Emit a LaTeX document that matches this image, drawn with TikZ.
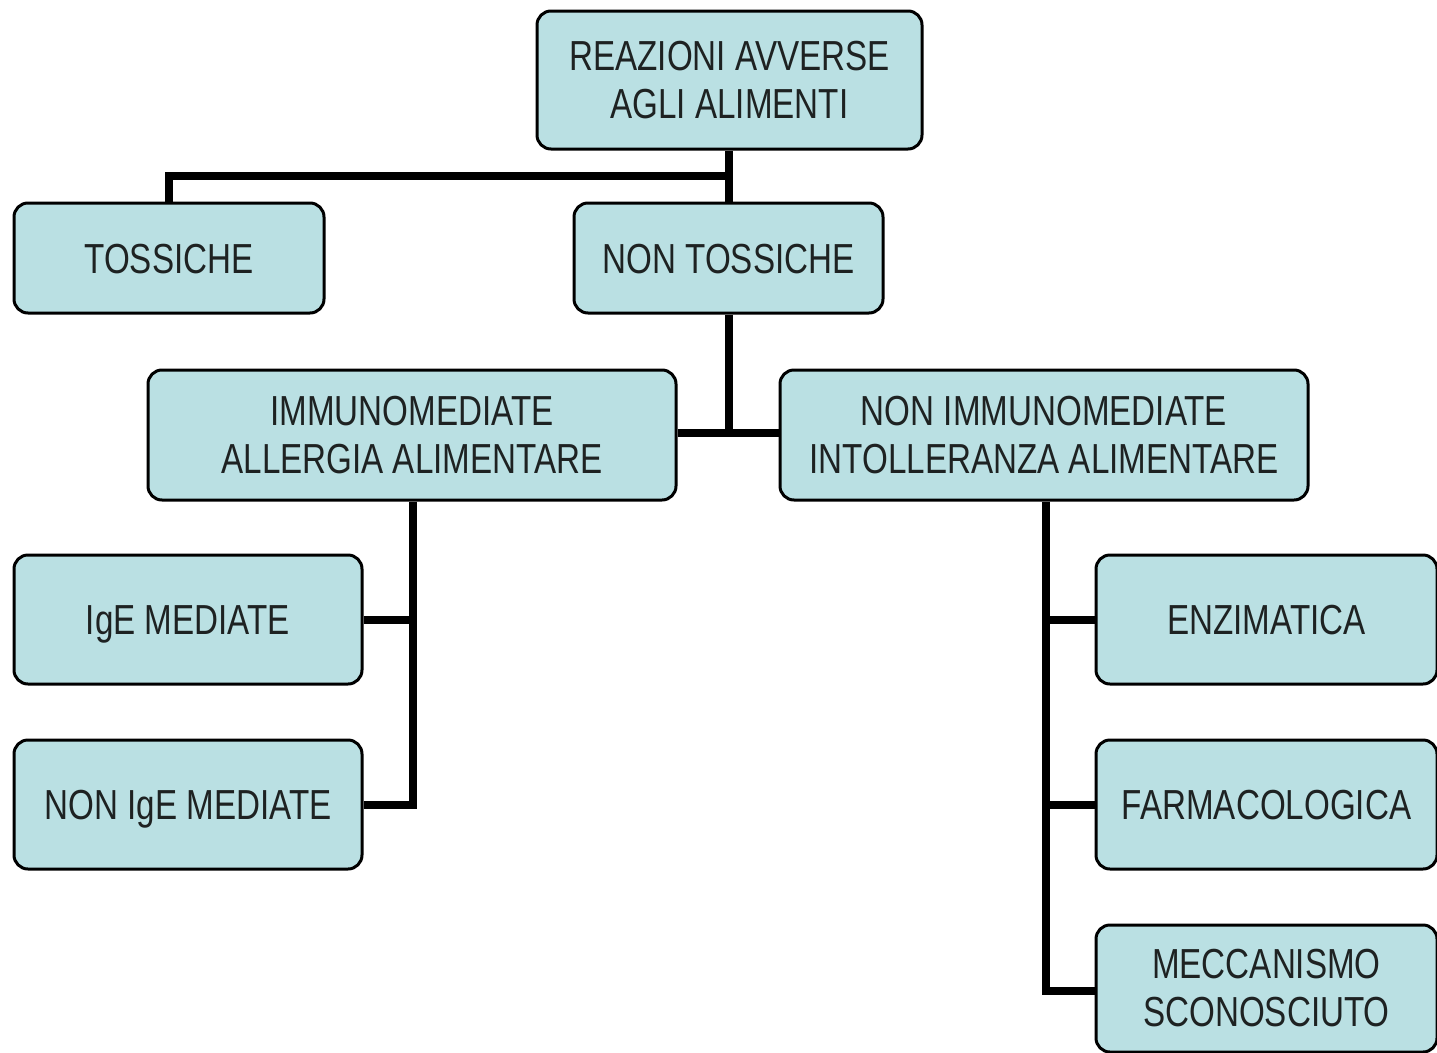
\documentclass[tikz,border=0pt]{standalone}
\usepackage{fontspec}
\setmainfont{Liberation Sans}[FakeStretch=0.79]
\begin{document}
\begin{tikzpicture}[x=1pt,y=-1pt,
  box/.style={draw=black, line width=3pt, fill=boxfill, rounded corners=14pt,
    inner sep=0pt, align=center, text=textgray,
    font=\fontsize{42}{48}\selectfont},
  oneline/.style={text height=30pt, text depth=0pt},
  conn/.style={draw=black, line width=8pt}]
\definecolor{boxfill}{HTML}{BAE0E3}
\definecolor{textgray}{HTML}{1E2222}
\useasboundingbox (0,0) rectangle (1437,1052);
\node[box, minimum width=385pt, minimum height=138pt] (top) at (729.5,80) {REAZIONI AVVERSE\\AGLI ALIMENTI};
\node[box, oneline, minimum width=310pt, minimum height=110pt] (ts) at (169,258) {TOSSICHE};
\node[box, oneline, minimum width=309pt, minimum height=110pt] (nt) at (728.5,258) {NON TOSSICHE};
\node[box, minimum width=528pt, minimum height=130pt] (im) at (412,435) {IMMUNOMEDIATE\\ALLERGIA ALIMENTARE};
\node[box, minimum width=528pt, minimum height=130pt] (ni) at (1044,435) {NON IMMUNOMEDIATE\\INTOLLERANZA ALIMENTARE};
\node[box, oneline, minimum width=348pt, minimum height=129pt] (ige) at (188,619.5) {IgE MEDIATE};
\node[box, oneline, minimum width=348pt, minimum height=129pt] (nige) at (188,804.5) {NON IgE MEDIATE};
\node[box, oneline, minimum width=341pt, minimum height=129pt] (enz) at (1266.5,619.5) {ENZIMATICA};
\node[box, oneline, minimum width=341pt, minimum height=129pt] (far) at (1266.5,804.5) {FARMACOLOGICA};
\node[box, minimum width=341pt, minimum height=127pt] (mec) at (1266.5,988.5) {MECCANISMO\\SCONOSCIUTO};
% junctions
\coordinate (j1) at (729,176);
\coordinate (j2) at (729,433);
\coordinate (j3) at (413,991);
\coordinate (j4) at (1046,991);
\begin{scope}[conn]
\draw (top.south -| j1) -- (nt.north -| j1);
\draw (ts.north) |- (j1);
\draw (nt.south -| j2) -- (j2);
\draw (im.east |- j2) -- (ni.west |- j2);
\draw (im.south -| 413,0) |- (nige.east);
\draw (ige.east) -- (ige.east -| 413,0);
\draw (ni.south -| j4) |- (mec.west |- 0,991);
\draw (enz.west) -- (enz.west -| j4);
\draw (far.west) -- (far.west -| j4);
\end{scope}
\end{tikzpicture}
\end{document}
